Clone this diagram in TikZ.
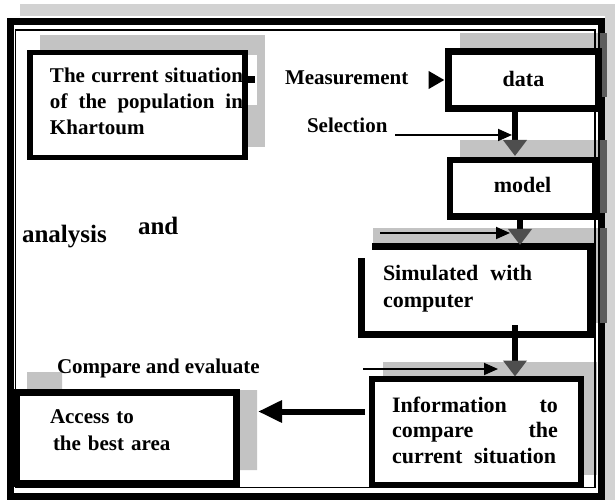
\documentclass[tikz,border=0pt]{standalone}
\usepackage{fontspec}
\setmainfont{Liberation Serif}
\usetikzlibrary{arrows.meta}
\definecolor{shade}{HTML}{C3C3C3}
\definecolor{shadeR}{HTML}{D2D2D2}
\definecolor{shadeD}{HTML}{5C5C5C}
\definecolor{headgrey}{HTML}{4E4E4E}
\newcommand\jline[3]{\hspace*{#1}\makebox[#2][s]{#3}}
\newcommand\fsz[2]{\bfseries\fontsize{#1}{#2}\selectfont}
\begin{document}
\begin{tikzpicture}[x=1pt,y=-1pt,
  every node/.style={font=\fsz{21}{26}, inner sep=0pt, outer sep=0pt},
  box/.style={draw, fill=white, rectangle, line join=miter, line width=#1},
  box/.default=6pt,
  shadowfill/.style={fill=shade, draw=none},
  thickarrow/.style={line width=6pt, -{Triangle[length=16pt,width=23pt,color=headgrey]}},
  thinarrow/.style={line width=1.8pt, -{Triangle[length=14pt,width=12pt]}},
  bigarrow/.style={line width=6pt, -{Triangle[length=24pt,width=21pt]}},
  lbl/.style={anchor=base west}
]
\useasboundingbox (0,0) rectangle (615,502);
\fill[white] (0,0) rectangle (615,502);
% shadows
\fill[shadeR] (20,4) rectangle (615,16);
\fill[shadeR] (605,4) rectangle (615,500);
\fill[shadowfill] (40,35) rectangle (265,147);
\fill[white] (248,55) rectangle (257,105);
\fill[shadowfill] (460,33) rectangle (607,97);
\fill[shadowfill] (460,140) rectangle (607,213);
\fill[shadowfill] (373,228) rectangle (607,323);
\fill[shadowfill] (383,362) rectangle (597,475);
\fill[shadowfill] (27,372) -- (62,372) -- (62,390) -- (257,390) -- (257,470) -- (27,470) -- cycle;
% frame
\draw[line width=7pt, line join=miter] (10,21.5) rectangle (601.5,496);
\draw[line width=1.3pt] (15.5,30) rectangle (595,487.5);
% shadow edges over the frame
\fill[shadeD] (600,33) rectangle (607,97);
\fill[shadeD] (600,140) rectangle (607,213);
\fill[shadeD] (600,228) rectangle (607,323);
% boxes
\node[box=5.5pt, minimum width=215pt, minimum height=105pt, text width=215pt,
      align=left, text height=0pt, text depth=44pt] (cur) at (137.5,105)
  {\jline{20pt}{193pt}{The\hfill current\hfill situation}\\
   \jline{20pt}{193pt}{of\hfill the\hfill population\hfill in}\\
   \hspace*{20pt}Khartoum};
\node[box=7pt, minimum width=150pt, minimum height=57pt, font=\fsz{22}{26},
      text height=14pt, text depth=0pt] (data) at (523.5,80) {data};
\node[box=6.5pt, minimum width=145pt, minimum height=56.5pt, font=\fsz{22}{26},
      text height=9.5pt, text depth=0pt] (model) at (522.5,188.25) {model};
\node[fill=white, minimum width=229pt, minimum height=87pt, text width=229pt,
      align=left, font=\fsz{22}{27}, text height=0pt, text depth=21pt] (sim) at (475.5,290.5)
  {\jline{22pt}{149pt}{Simulated\hfill with}\\
   \hspace*{22pt}computer};
\draw[line width=7pt, line join=miter] ([xshift=11pt]sim.north west) -- (sim.north east)
  -- (sim.south east) -- (sim.south west) -- ([yshift=-11pt]sim.north west);
\node[box=6pt, minimum width=209pt, minimum height=106pt, text width=209pt,
      align=left, font=\fsz{22}{25.5}, text height=0pt, text depth=40pt] (info) at (476,432)
  {\jline{20.5pt}{166pt}{Information\hfill to}\\
   \jline{20.5pt}{166pt}{compare\hfill the}\\
   \jline{20.5pt}{164pt}{current\hfill situation}};
\node[box=7pt, minimum width=220pt, minimum height=91pt, text width=220pt,
      align=left, font=\fsz{21}{27}, text height=0pt, text depth=30pt] (acc) at (126.5,438)
  {\hspace*{33.5pt}Access to\\
   \hspace*{36.5pt}the best area};
% labels
\node[lbl] (meas) at (285,85) {Measurement};
\node[lbl] (sel) at (307,133) {Selection};
\node[lbl, font=\fsz{25}{30}] (ana) at (22,243) {analysis};
\node[lbl, font=\fsz{25}{30}] (and) at (138,235) {and};
\node[lbl] (cmp) at (57,373) {Compare and evaluate};
% helper coordinates
\coordinate (c1) at (515,0);
\coordinate (c2) at (520,0);
\coordinate (r1) at (0,80);
\coordinate (r3) at (0,411.5);
\coordinate (selTip) at (512,135);
\coordinate (uStart) at (380,233);
\coordinate (uTip) at (510,233);
\coordinate (cStart) at (363,369);
\coordinate (cTip) at (498,369);
% connectors
\draw[line width=7pt, dash pattern=on 10pt off 400pt, shorten >=4pt,
      -{Triangle[length=16pt,width=17pt]}] (cur.east |- r1) -- (data.west);
\draw[thickarrow, shorten >=4pt] (data.south -| c1) -- (model.north -| c1);
\draw[thickarrow, shorten >=2pt] (model.south -| c2) -- (sim.north -| c2);
\draw[thickarrow, shorten >=2.5pt] ([yshift=9pt]sim.south -| c1) -- (info.north -| c1);
\draw[bigarrow, shorten <=6.5pt, shorten >=21.5pt] (info.west |- r3) -- (acc.east |- r3);
\draw[thinarrow, shorten <=8pt] ([yshift=-2pt]sel.base east) -- (selTip);
\draw[thinarrow] (uStart) -- (uTip);
\draw[thinarrow] (cStart) -- (cTip);
\end{tikzpicture}
\end{document}
